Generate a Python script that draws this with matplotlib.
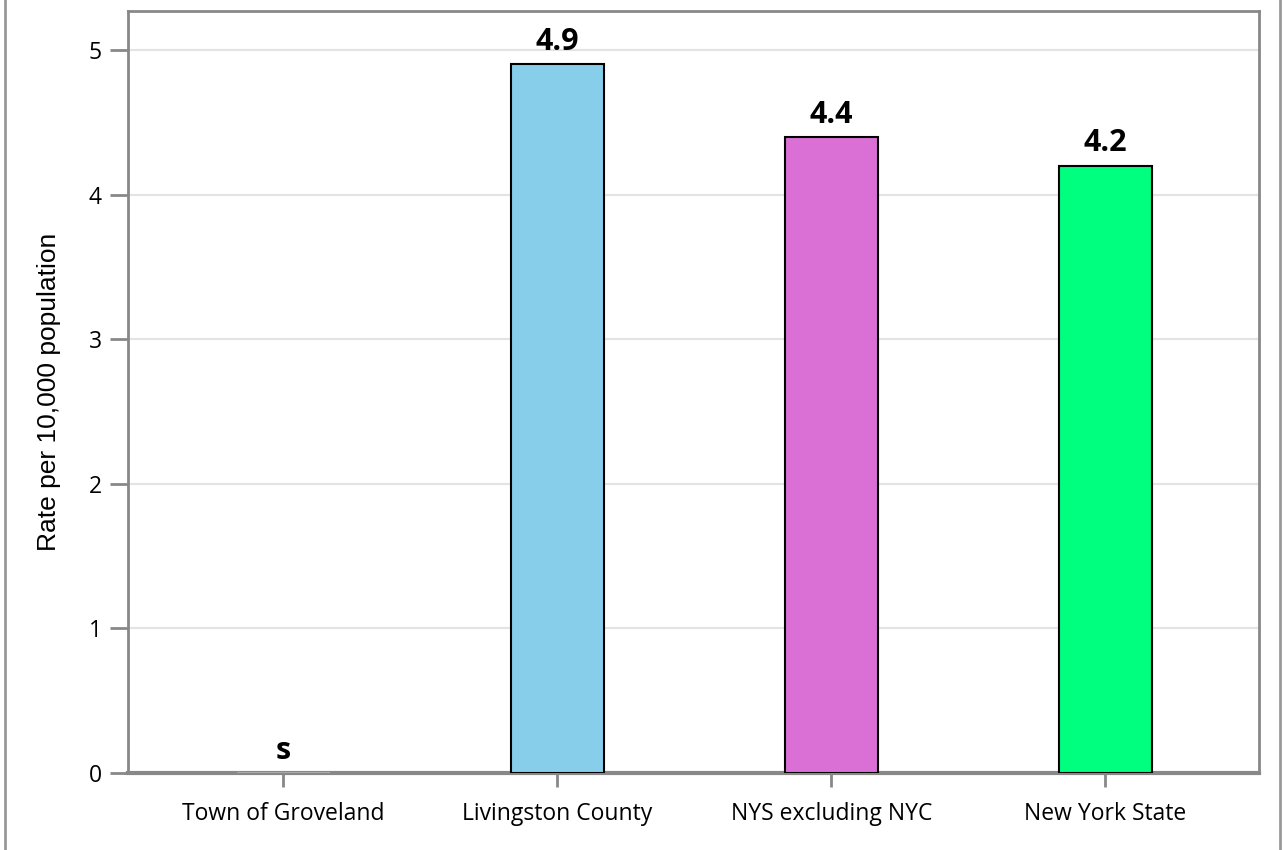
import matplotlib.pyplot as plt
from matplotlib.lines import Line2D

categories = ['Town of Groveland', 'Livingston County', 'NYS excluding NYC', 'New York State']
values = [0, 4.9, 4.4, 4.2]
labels = ['s', '4.9', '4.4', '4.2']
colors = ['#aaaaaa', '#87ceeb', '#da70d6', '#00ff7f']

plt.rcParams['font.family'] = ['Open Sans', 'DejaVu Sans']

fig = plt.figure(figsize=(12.83, 8.5), dpi=100)
ax = fig.add_axes([128 / 1283, 1 - 773 / 850, (1259 - 128) / 1283, (773 - 11) / 850])

x = list(range(len(categories)))
for i in x:
    if values[i] == 0:
        ax.bar(i, values[i], width=0.34, color=colors[i], edgecolor='#aaaaaa', linewidth=1.5, zorder=3)
    else:
        ax.bar(i, values[i], width=0.34, color=colors[i], edgecolor='black', linewidth=1.5, zorder=3)
    ax.text(i, values[i] + 0.05, labels[i], ha='center', va='bottom',
            fontsize=22, fontweight='bold', zorder=4)

ax.set_xlim(-0.566, 3.56)
ax.set_ylim(0, 5.27)
ax.set_xticks(x)
ax.set_xticklabels(categories, fontsize=16.5)
ax.set_yticks([0, 1, 2, 3, 4, 5])
ax.tick_params(axis='y', labelsize=16.5, length=13, width=2, color='#888888', pad=6)
ax.tick_params(axis='x', labelsize=16.5, length=10, width=2, color='#888888', pad=11)
ax.grid(axis='y', color='#e3e3e3', linewidth=1.5, zorder=0)
ax.set_axisbelow(True)
for s in ['top', 'right', 'left']:
    ax.spines[s].set_color('#888888')
    ax.spines[s].set_linewidth(2)
ax.spines['bottom'].set_color('#888888')
ax.spines['bottom'].set_linewidth(3)
ax.set_ylabel('Rate per 10,000 population', fontsize=19, family='Liberation Sans', labelpad=20)

fig.add_artist(Line2D([5 / 1283, 5 / 1283], [0, 1], color='#999999', linewidth=2))
fig.add_artist(Line2D([1280 / 1283, 1280 / 1283], [0, 1], color='#999999', linewidth=2))

fig.savefig('out.png', dpi=100)
